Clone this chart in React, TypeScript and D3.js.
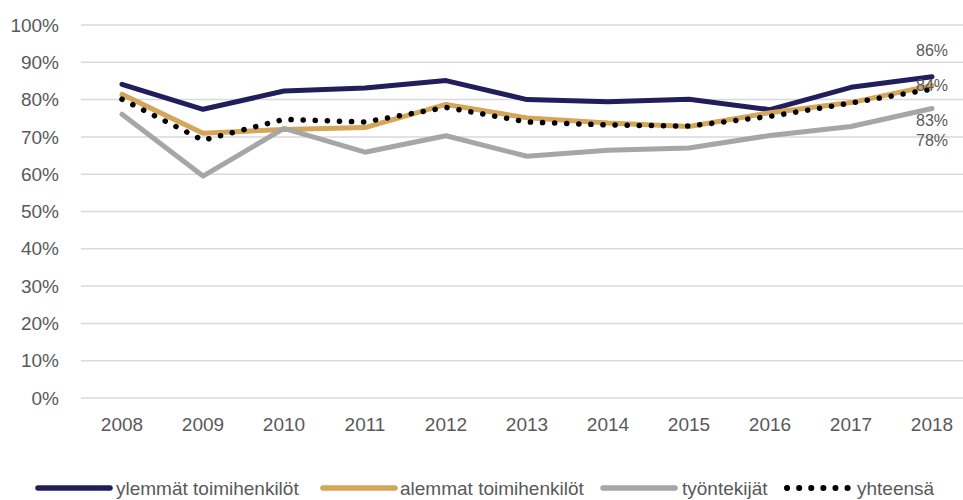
import React from "react";
import * as d3 from "d3";

const years = ["2008", "2009", "2010", "2011", "2012", "2013", "2014", "2015", "2016", "2017", "2018"];
const yTicks = [0, 10, 20, 30, 40, 50, 60, 70, 80, 90, 100];

const ylemmat = [84.1, 77.4, 82.3, 83.1, 85.1, 80.0, 79.4, 80.1, 77.3, 83.3, 86.1];
const alemmat = [81.4, 71.0, 72.0, 72.5, 78.7, 75.1, 73.7, 72.8, 76.5, 79.2, 83.8];
const tyontekijat = [76.1, 59.5, 72.3, 65.9, 70.3, 64.8, 66.4, 67.0, 70.4, 72.8, 77.6];
const yhteensa = [80.1, 69.1, 74.7, 74.0, 77.9, 74.0, 73.2, 72.9, 75.5, 79.1, 82.8];

const seriesNames = ["ylemmät toimihenkilöt", "alemmat toimihenkilöt", "työntekijät", "yhteensä"];
const endLabels = ["86%", "84%", "78%", "83%"];

const W = 963;
const H = 500;
const FONT = "'Liberation Sans', Arial, sans-serif";
const TEXT = "#595959";

export default function App() {
  const x = d3.scaleBand<string>().domain(years).range([81.5, 972.5]);
  const y = d3.scaleLinear().domain([0, 100]).range([398, 25]);
  const cx = (i: number) => (x(years[i]) as number) + x.bandwidth() / 2;

  const styles = [
    { stroke: "#211E5B", width: 5, dash: undefined as string | undefined },
    { stroke: "#D3A65A", width: 5, dash: undefined },
    { stroke: "#A6A6A6", width: 5, dash: undefined },
    { stroke: "#000000", width: 5.5, dash: "0.1 12" },
  ];
  const data = [ylemmat, alemmat, tyontekijat, yhteensa];
  const labelDy = [-21, 6, 37, 37];

  const line = d3
    .line<number>()
    .x((_, i) => cx(i))
    .y((d) => y(d));

  const legend = [
    { x1: 38, x2: 110, tx: 116 },
    { x1: 323, x2: 395, tx: 400 },
    { x1: 603, x2: 675, tx: 682 },
    { x1: 787, x2: 849, tx: 857 },
  ];

  return (
    <svg
      width={W}
      height={H}
      style={{ position: "absolute", left: 0, top: 0, background: "#fff" }}
      fontFamily={FONT}
    >
      {yTicks.map((t) => (
        <g key={t}>
          <line x1={81} x2={W} y1={y(t)} y2={y(t)} stroke="#D9D9D9" strokeWidth={1.5} />
          <text x={59} y={y(t)} dy="0.35em" textAnchor="end" fontSize={19} fill={TEXT}>
            {t}%
          </text>
        </g>
      ))}
      {years.map((yr, i) => (
        <text key={yr} x={cx(i)} y={431} textAnchor="middle" fontSize={19} fill={TEXT}>
          {yr}
        </text>
      ))}
      {data.map((d, k) => (
        <path
          key={k}
          d={line(d) || ""}
          fill="none"
          stroke={styles[k].stroke}
          strokeWidth={styles[k].width}
          strokeDasharray={styles[k].dash}
          strokeLinecap="round"
          strokeLinejoin="round"
        />
      ))}
      {data.map((d, k) => (
        <text
          key={"l" + k}
          x={cx(years.length - 1)}
          y={y(d[d.length - 1]) + labelDy[k]}
          textAnchor="middle"
          fontSize={16}
          fill={TEXT}
        >
          {endLabels[k]}
        </text>
      ))}
      {legend.map((l, k) => (
        <g key={"lg" + k}>
          <line
            x1={l.x1}
            x2={l.x2}
            y1={488}
            y2={488}
            stroke={styles[k].stroke}
            strokeWidth={styles[k].width + 0.5}
            strokeDasharray={styles[k].dash}
            strokeLinecap="round"
          />
          <text x={l.tx} y={488} dy="0.35em" fontSize={19} fill={TEXT}>
            {seriesNames[k]}
          </text>
        </g>
      ))}
    </svg>
  );
}
